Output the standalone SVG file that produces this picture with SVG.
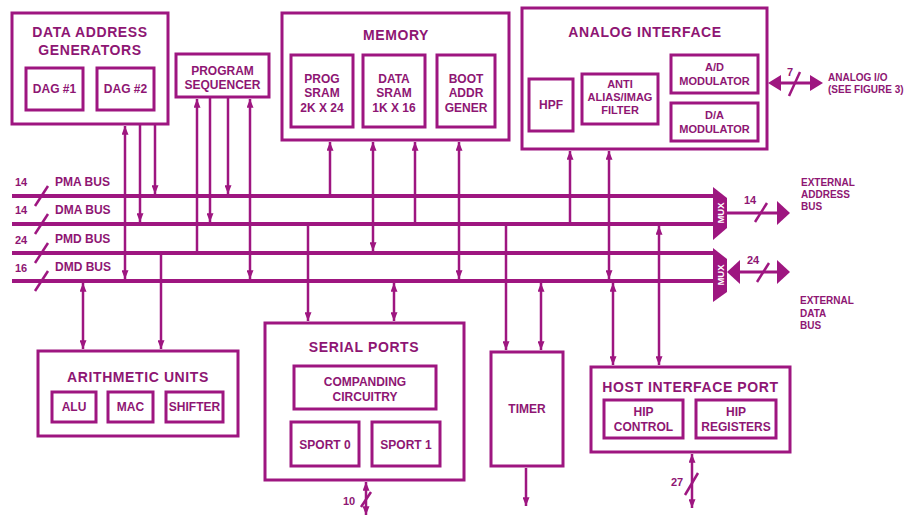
<svg xmlns="http://www.w3.org/2000/svg" width="915" height="517" viewBox="0 0 915 517">
<style>
.b{fill:none;stroke:#9e1680;stroke-width:3}
.bus{stroke:#9e1680;stroke-width:4;fill:none}
.w{stroke:#9e1680;stroke-width:2.5;fill:none}
.e{marker-end:url(#a)}
.st{marker-start:url(#a)}
.fill{fill:#9e1680;stroke:none}
text{font-family:"Liberation Sans",Arial,sans-serif;font-weight:bold;fill:#8e1673;text-anchor:middle}
.t{font-size:14px;letter-spacing:0.6px}
.s{font-size:12px}
.c{font-size:11px}
.n{font-size:11px}
.l{font-size:10px;text-anchor:start}
.m{font-size:9.5px;fill:#ffffff}
</style>
<defs>
<marker id="a" viewBox="0 0 10 8" refX="10" refY="4" markerWidth="9" markerHeight="7" markerUnits="userSpaceOnUse" orient="auto-start-reverse"><path d="M0,0 L10,4 L0,8 z" fill="#9e1680"/></marker>
</defs>

<g id="dag">
<rect class="b" x="12" y="13" width="156" height="111"/>
<text class="t" x="90" y="37">DATA ADDRESS</text>
<text class="t" x="90" y="55">GENERATORS</text>
<rect class="b" x="26" y="68" width="57" height="42"/>
<text class="s" x="54.5" y="93">DAG #1</text>
<rect class="b" x="97" y="68" width="57" height="42"/>
<text class="s" x="125.5" y="93">DAG #2</text>
</g>

<g id="sequencer">
<rect class="b" x="176" y="54" width="93" height="43"/>
<text class="s" x="222.5" y="75">PROGRAM</text>
<text class="s" x="222.5" y="89">SEQUENCER</text>
</g>

<g id="memory">
<rect class="b" x="282" y="13" width="227" height="127"/>
<text class="t" x="396" y="40">MEMORY</text>
<rect class="b" x="291" y="55" width="62" height="72"/>
<text class="s" x="322" y="83">PROG</text>
<text class="s" x="322" y="97">SRAM</text>
<text class="s" x="322" y="112">2K X 24</text>
<rect class="b" x="363" y="55" width="62" height="72"/>
<text class="s" x="394" y="83">DATA</text>
<text class="s" x="394" y="97">SRAM</text>
<text class="s" x="394" y="112">1K X 16</text>
<rect class="b" x="437" y="55" width="58" height="72"/>
<text class="s" x="466" y="83">BOOT</text>
<text class="s" x="466" y="97">ADDR</text>
<text class="s" x="466" y="112">GENER</text>
</g>

<g id="analog">
<rect class="b" x="522" y="8" width="245" height="141"/>
<text class="t" x="645" y="37">ANALOG INTERFACE</text>
<rect class="b" x="529" y="79" width="44" height="52"/>
<text class="s" x="551" y="109">HPF</text>
<rect class="b" x="582" y="74" width="76" height="50"/>
<text class="c" x="620" y="88">ANTI</text>
<text class="c" x="620" y="101">ALIAS/IMAG</text>
<text class="c" x="620" y="114">FILTER</text>
<rect class="b" x="671" y="55" width="87" height="38"/>
<text class="c" x="714.5" y="71">A/D</text>
<text class="c" x="714.5" y="85">MODULATOR</text>
<rect class="b" x="671" y="103" width="87" height="38"/>
<text class="c" x="714.5" y="119">D/A</text>
<text class="c" x="714.5" y="133">MODULATOR</text>
</g>

<g id="arith">
<rect class="b" x="38" y="351" width="200" height="85"/>
<text class="t" x="138" y="382">ARITHMETIC UNITS</text>
<rect class="b" x="52" y="392" width="44" height="30"/>
<text class="s" x="74" y="411">ALU</text>
<rect class="b" x="108" y="392" width="45" height="30"/>
<text class="s" x="130.5" y="411">MAC</text>
<rect class="b" x="166" y="392" width="57" height="30"/>
<text class="s" x="194.5" y="411">SHIFTER</text>
</g>

<g id="serial">
<rect class="b" x="265" y="323" width="199" height="157"/>
<text class="t" x="364" y="352">SERIAL PORTS</text>
<rect class="b" x="294" y="366" width="142" height="43"/>
<text class="s" x="365" y="386">COMPANDING</text>
<text class="s" x="365" y="401">CIRCUITRY</text>
<rect class="b" x="291" y="422" width="68" height="44"/>
<text class="s" x="325" y="449">SPORT 0</text>
<rect class="b" x="372" y="422" width="68" height="44"/>
<text class="s" x="406" y="449">SPORT 1</text>
</g>

<g id="timer">
<rect class="b" x="491" y="352" width="72" height="114"/>
<text class="s" x="527" y="413">TIMER</text>
</g>

<g id="hip">
<rect class="b" x="591" y="367" width="199" height="85"/>
<text class="t" x="690.5" y="392">HOST INTERFACE PORT</text>
<rect class="b" x="604" y="400" width="79" height="38"/>
<text class="s" x="643.5" y="416">HIP</text>
<text class="s" x="643.5" y="431">CONTROL</text>
<rect class="b" x="696" y="400" width="80" height="38"/>
<text class="s" x="736" y="416">HIP</text>
<text class="s" x="736" y="431">REGISTERS</text>
</g>

<g id="mux-address">
<polygon class="fill" points="713,187 727,198 727,228 713,240"/>
<text class="m" transform="translate(723.5,213) rotate(-90)">MUX</text>
</g>
<g id="mux-data">
<polygon class="fill" points="713,248 727,259 727,292 713,302"/>
<text class="m" transform="translate(723.5,275) rotate(-90)">MUX</text>
</g>

<g id="labels">
<text class="n" x="21" y="186">14</text>
<text class="s" x="55" y="186" style="text-anchor:start">PMA BUS</text>
<text class="n" x="21" y="214">14</text>
<text class="s" x="55" y="214" style="text-anchor:start">DMA BUS</text>
<text class="n" x="21" y="244">24</text>
<text class="s" x="55" y="243" style="text-anchor:start">PMD BUS</text>
<text class="n" x="21" y="272">16</text>
<text class="s" x="55" y="271" style="text-anchor:start">DMD BUS</text>
<text class="n" x="750" y="204">14</text>
<text class="n" x="753" y="264">24</text>
<text class="n" x="790" y="76">7</text>
<text class="n" x="349" y="505">10</text>
<text class="n" x="677" y="486">27</text>
<text class="l" x="828" y="81">ANALOG I/O</text>
<text class="l" x="828" y="93">(SEE FIGURE 3)</text>
<text class="l" x="801" y="186">EXTERNAL</text>
<text class="l" x="801" y="198">ADDRESS</text>
<text class="l" x="801" y="210">BUS</text>
<text class="l" x="800" y="304">EXTERNAL</text>
<text class="l" x="800" y="317">DATA</text>
<text class="l" x="800" y="329">BUS</text>
</g>

<g id="connectors">
<line class="bus" x1="12" y1="196" x2="714" y2="196"/>
<line class="bus" x1="12" y1="224" x2="714" y2="224"/>
<line class="bus" x1="12" y1="253" x2="714" y2="253"/>
<line class="bus" x1="12" y1="281" x2="714" y2="281"/>
<line class="w" x1="35" y1="206" x2="48" y2="186"/>
<line class="w" x1="35" y1="234" x2="48" y2="214"/>
<line class="w" x1="35" y1="263" x2="48" y2="243"/>
<line class="w" x1="35" y1="291" x2="48" y2="271"/>

<line class="w st e" x1="125" y1="126" x2="125" y2="279"/>
<line class="w e" x1="140" y1="125" x2="140" y2="222"/>
<line class="w e" x1="155" y1="125" x2="155" y2="194"/>
<line class="w st" x1="197" y1="99" x2="197" y2="253"/>
<line class="w e" x1="210" y1="98" x2="210" y2="222"/>
<line class="w e" x1="228" y1="98" x2="228" y2="194"/>
<line class="w st e" x1="250" y1="99" x2="250" y2="279"/>

<line class="w st" x1="330" y1="142" x2="330" y2="196"/>
<line class="w st e" x1="373" y1="142" x2="373" y2="251"/>
<line class="w st" x1="415" y1="142" x2="415" y2="224"/>
<line class="w st e" x1="459" y1="142" x2="459" y2="279"/>

<line class="w st" x1="570" y1="151" x2="570" y2="224"/>
<line class="w st e" x1="609" y1="151" x2="609" y2="279"/>

<line class="w st e" x1="83" y1="283" x2="83" y2="349"/>
<line class="w e" x1="161" y1="253" x2="161" y2="349"/>
<line class="w e" x1="308" y1="224" x2="308" y2="321"/>
<line class="w st e" x1="394" y1="283" x2="394" y2="321"/>
<line class="w e" x1="506" y1="224" x2="506" y2="350"/>
<line class="w st e" x1="541" y1="283" x2="541" y2="350"/>
<line class="w st e" x1="613" y1="283" x2="613" y2="365"/>
<line class="w st e" x1="659" y1="226" x2="659" y2="365"/>

<line class="w st e" x1="366" y1="482" x2="366" y2="515"/>
<line class="w" x1="361" y1="507" x2="371" y2="492"/>
<line class="w e" x1="526" y1="468" x2="526" y2="506"/>
<line class="w st e" x1="692" y1="454" x2="692" y2="508"/>
<line class="w" x1="685" y1="495" x2="698" y2="473"/>

<line class="bus" style="stroke-width:3" x1="727" y1="213" x2="779" y2="213"/>
<polygon class="fill" points="777,201 790,213 777,225"/>
<line class="w" x1="755" y1="222" x2="767" y2="203"/>

<line class="bus" style="stroke-width:3" x1="739" y1="272" x2="779" y2="272"/>
<polygon class="fill" points="740,260 727,272 740,284"/>
<polygon class="fill" points="777,260 790,272 777,284"/>
<line class="w" x1="757" y1="282" x2="769" y2="263"/>

<line class="bus" style="stroke-width:3" x1="779" y1="83" x2="812" y2="83"/>
<polygon class="fill" points="781,75 768,83 781,91"/>
<polygon class="fill" points="810,75 823,83 810,91"/>
<line class="w" x1="789" y1="96" x2="800" y2="72"/>
</g>
</svg>
